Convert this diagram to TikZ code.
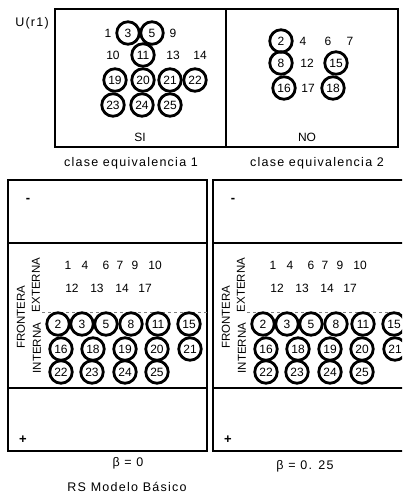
\documentclass[tikz,border=0pt]{standalone}
\usepackage{fontspec}
\setmainfont{Liberation Sans}
\newfontfamily\wideFont[LetterSpace=10]{Liberation Sans}
\tikzset{rsElem/.style={draw,circle,line width=2.8pt,minimum size=22.5pt,inner sep=0pt,font=\fontsize{12}{14}\selectfont},
 rsNum/.style={inner sep=0pt,font=\fontsize{12}{14}\selectfont},
 rsSign/.style={inner sep=0pt,font=\fontsize{13}{15}\bfseries},
 rsTag/.style={inner sep=0pt,rotate=90,font=\fontsize{11.5}{13}\selectfont},
 rsCap/.style={inner sep=0pt,font=\fontsize{12.5}{14}\wideFont},
 rsFrame/.style={line width=2.8pt}}

\begin{document}
\begin{tikzpicture}[x=1pt,y=-1pt]
\path[use as bounding box,clip] (0,0) rectangle (402,495);
% clases de equivalencia
\draw[rsFrame] (55,9) rectangle (398,147);
\draw[rsFrame] (226,9) -- (226,147);
\node[rsCap] (u) at (32,23) {U(r1)};
\foreach \n/\xx/\yy in {3/128/33,5/152/33,11/143/55,19/115/80,20/143/80,21/170/80,22/195/80,
 23/113/105,24/142/105,25/170/105,2/281/41,8/281/63,15/336/63,16/284/88,18/333/88}{
\node[rsElem] (s\n) at (\xx,\yy) {\n};}
\foreach \n/\xx/\yy in {1/108/33,9/173/33,10/113/55,13/173/55,14/200/55,
 4/303/41,6/328/41,7/350/41,12/307/63,17/308/88}{
\node[rsNum] (s\n) at (\xx,\yy) {\n};}
\node[rsNum] (si) at (140,137) {SI};
\node[rsNum] (no) at (307,137) {NO};
\node[rsCap] (ce1) at (131,163) {clase equivalencia 1};
\node[rsCap] (ce2) at (317,163) {clase equivalencia 2};
% regiones de frontera
\foreach \p/\dx/\bval/\bx/\by in {a/0/0/128/463,b/205/0. 25/100/466}{
\begin{scope}[xshift=\dx]
\draw[rsFrame] (8,180) rectangle (207,451);
\draw[rsFrame] (8,243) -- (207,243);
\draw[rsFrame] (8,388) -- (207,388);
\node[rsSign] (minus\p) at (28,200) {-};
\node[rsSign] (plus\p) at (23,440) {+};
\node[rsTag] (fr\p) at (21,317) {FRONTERA};
\node[rsTag] (ex\p) at (36,285) {EXTERNA};
\node[rsTag] (in\p) at (37,348) {INTERNA};
\draw[gray,dashed,thin] (42,312) -- (207,312);
\foreach \n/\xx/\yy in {1/68/265,4/85/265,6/106/265,7/120/265,9/135/265,10/155/265,
 12/72/288,13/97/288,14/122/288,17/145/288}{
\node[rsNum] (x\p\n) at (\xx,\yy) {\n};}
\foreach \n/\xx/\yy in {2/58/324,3/82/324,5/106/324,8/131/324,11/158/324,15/189/324,
 16/61/349,18/93/349,19/125/349,20/157/349,21/190/349,
 22/61/372,23/92/372,24/125/372,25/157/372}{
\node[rsElem] (c\p\n) at (\xx,\yy) {\n};}
\node[rsCap] (beta\p) at (\bx,\by) {β = \bval};
\end{scope}}
\node[rsCap] (rs) at (127,487) {RS Modelo Básico};
\end{tikzpicture}
\end{document}
